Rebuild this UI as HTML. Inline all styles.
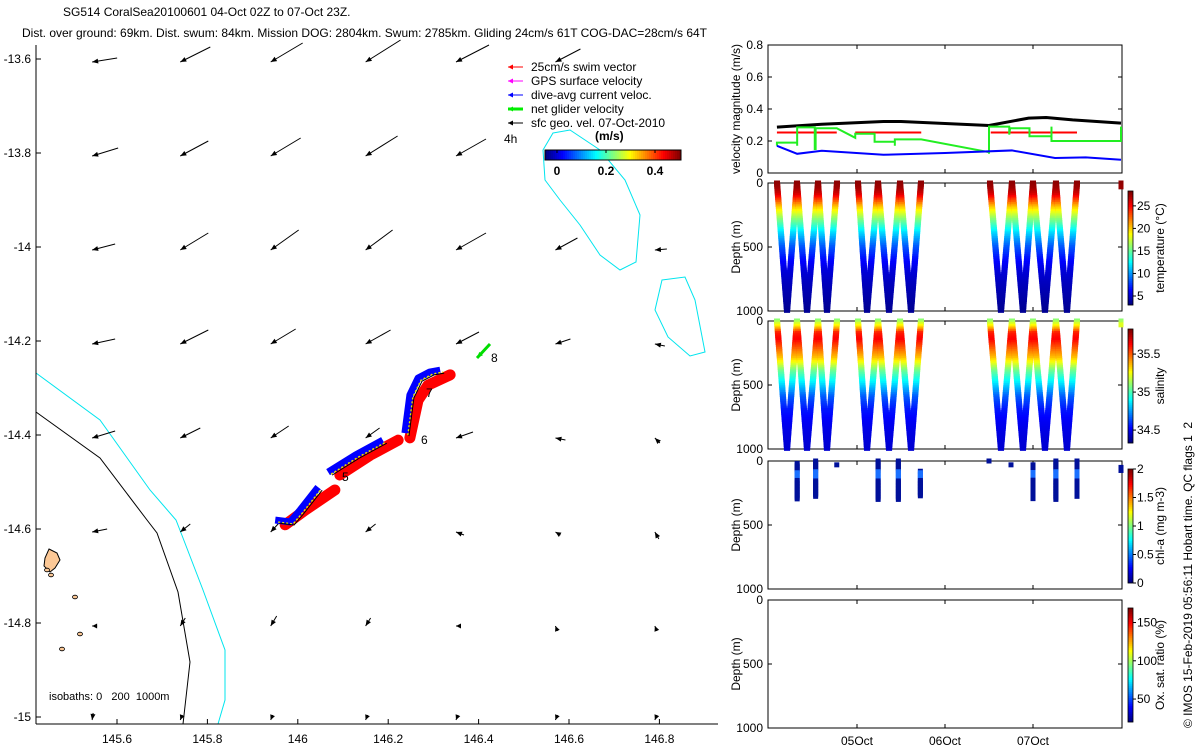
<!DOCTYPE html>
<html><head><meta charset="utf-8">
<style>
html,body{margin:0;padding:0;background:#fff;}
svg{display:block;font-family:"Liberation Sans",sans-serif;}
</style></head>
<body>
<svg id="s" width="1200" height="750" xmlns="http://www.w3.org/2000/svg">
<text x="63" y="16" font-size="12">SG514 CoralSea20100601 04-Oct 02Z to 07-Oct 23Z.</text>
<text x="22" y="37" font-size="12">Dist. over ground: 69km. Dist. swum: 84km. Mission DOG: 2804km. Swum: 2785km. Gliding 24cm/s 61T COG-DAC=28cm/s 64T</text>
</svg>
<script>
// ---------- data ----------
const latTicks=[-13.6,-13.8,-14,-14.2,-14.4,-14.6,-14.8,-15];
const lonTicks=[145.6,145.8,146,146.2,146.4,146.6,146.8];
const gridLons=[145.545,145.74,145.94,146.15,146.35,146.57,146.79];
const gridLats=[-13.6,-13.8,-14.0,-14.2,-14.4,-14.6,-14.8,-15.0];
const geoU=[[25,30,32,35,33,25,0],[26,28,30,32,30,0,0],[23,28,28,27,30,22,12],[23,28,25,25,23,15,10],[23,20,18,14,17,10,5],[15,10,12,10,8,5,4],[5,5,6,5,5,2,2],[1,2,2,2,2,2,2]];
const geoV=[[4,15,19,22,17,13,0],[8,15,18,20,17,0,0],[6,17,20,20,17,12,1],[5,14,15,14,12,5,-2],[7,10,12,10,6,-2,-5],[3,8,13,8,-3,-3,-7],[0,8,10,8,0,-5,-5],[7,5,5,5,5,5,5]];
const blueLon=[[145.950,145.983,146.005,146.045],[146.067,146.127,146.188],[146.237,146.248,146.266,146.292,146.315]];
const blueLat=[[-14.581,-14.585,-14.560,-14.511],[-14.479,-14.443,-14.411],[-14.396,-14.315,-14.279,-14.266,-14.262]];
const redLon=[[145.972,146.016,146.082],[146.093,146.160,146.222],[146.248,146.266,146.288,146.337]];
const redLat=[[-14.591,-14.560,-14.517],[-14.485,-14.443,-14.411],[-14.406,-14.326,-14.294,-14.272]];
const blackT=[0.09,0.6,1.3,1.5,2.5,2.95,3.15,3.45,4.0];
const blackV=[0.287,0.305,0.322,0.322,0.297,0.343,0.347,0.332,0.312];
const blueT=[0.09,0.32,0.6,1.3,2.0,2.76,3.25,3.6,4.0];
const blueV=[0.17,0.12,0.139,0.114,0.125,0.141,0.094,0.098,0.083];
const redStart=[0.09,0.98,2.52];
const redEnd=[0.77,1.73,3.5];
const redVal=[0.253,0.253,0.253];
const greenT=[0.09,0.09,0.32,0.32,0.32,0.52,0.52,0.53,0.53,0.77,0.98,0.98,1.2,1.2,1.43,1.43,1.43,1.73,2.5,2.5,2.5,2.73,2.73,2.74,2.96,2.96,3.21,3.21,3.21,4.0,4.0];
const greenV=[0.17,0.19,0.19,0.17,0.285,0.285,0.15,0.15,0.28,0.28,0.22,0.245,0.245,0.195,0.195,0.17,0.21,0.21,0.13,0.12,0.29,0.29,0.24,0.28,0.28,0.23,0.23,0.29,0.2,0.2,0.29];
const diveStart=[0.091,0.318,0.557,1.011,1.239,1.489,2.511,2.761,3.0,3.261];
const diveBottom=[0.205,0.432,0.659,1.114,1.364,1.614,2.636,2.886,3.136,3.386];
const diveEnd=[0.318,0.557,0.773,1.239,1.489,1.727,2.761,3.0,3.261,3.5];
const depthLevels=[0,50,100,150,200,300,400,500,600,700,800,900,1000];
const tempProfile=[28,27.5,26,23,20,15.5,11.5,8.5,6.5,5.2,4.5,4,3.5];
const salProfile=[35.1,35.3,35.6,35.65,35.55,35.35,35.05,34.85,34.65,34.55,34.5,34.47,34.45];
const chlT=[0.32,0.53,0.77,1.24,1.47,1.72,2.5,2.75,3.0,3.26,3.5,4.0];
const chlTop=[20,0,30,0,0,80,0,30,30,0,0,50];
const chlBot=[300,280,30,300,300,280,0,30,300,300,280,80];
const dateTicks=[1,2,3];
const dateLabels=["05Oct","06Oct","07Oct"];

// ---------- helpers ----------
const svg=document.getElementById('s');
const NS='http://www.w3.org/2000/svg';
function mk(tag,attrs,parent){const e=document.createElementNS(NS,tag);for(const k in attrs)e.setAttribute(k,attrs[k]);(parent||svg).appendChild(e);return e;}
function jet(t){t=Math.max(0,Math.min(1,t));const r=Math.max(0,Math.min(1,1.5-Math.abs(4*t-3))),g=Math.max(0,Math.min(1,1.5-Math.abs(4*t-2))),b=Math.max(0,Math.min(1,1.5-Math.abs(4*t-1)));return `rgb(${Math.round(r*255)},${Math.round(g*255)},${Math.round(b*255)})`;}
function interp(xs,ys,x){for(let i=0;i<xs.length-1;i++){if(x<=xs[i+1]){const f=(x-xs[i])/(xs[i+1]-xs[i]);return ys[i]+f*(ys[i+1]-ys[i]);}}return ys[ys.length-1];}

// ---------- map ----------
const mx=lon=>117+(lon-145.6)*452;
const my=lat=>59-(lat+13.6)*470;
const map=mk('g',{});


const iso1=mk('polyline',{points:"36,412 100,458 147,520 157,533 178,592 190,662 183,724",fill:"none",stroke:"#000","stroke-width":1},map);

const iso2=mk('polyline',{points:"36,373 100,420 150,490 176,520 183,538 203,590 225,650 225,700 218,724",fill:"none",stroke:"#00e5ee","stroke-width":1},map);

const iso3=mk('polygon',{points:"553,133 570,130 600,150 625,180 640,215 636,262 620,270 600,255 580,225 560,200 545,180 543,150",fill:"none",stroke:"#00e5ee","stroke-width":1},map);

const iso4=mk('polygon',{points:"662,280 685,277 695,300 705,352 690,356 668,337 655,310",fill:"none",stroke:"#00e5ee","stroke-width":1},map);

const isl=mk('polygon',{points:"49,549 57,553 60,560 55,568 50,572 44,566 45,558",fill:"#fcc896",stroke:"#000","stroke-width":1},map);

[[47,570],[51,575],[75,597],[80,634],[62,649]].forEach(p=>{const c=mk('ellipse',{cx:p[0],cy:p[1],rx:2.5,ry:1.8,fill:"#fcc896",stroke:"#000","stroke-width":0.8},map);});
function arrow(x0,y0,dx,dy,color,w,name){
  const g=mk('g',{},map);
  
  
  const L=Math.hypot(dx,dy);
  mk('line',{x1:x0+dx,y1:y0+dy,x2:x0,y2:y0,stroke:color,"stroke-width":w},g);
  if(L>0.5){const ux=-dx/L,uy=-dy/L,h=Math.min(6,L*0.6+2);
    const bx=x0-ux*h,by=y0-uy*h;
    mk('polygon',{points:`${x0},${y0} ${bx-uy*2.5},${by+ux*2.5} ${bx+uy*2.5},${by-ux*2.5}`,fill:color},g);}
  else mk('circle',{cx:x0,cy:y0,r:1.8,fill:color},g);
}
gridLats.forEach((la,r)=>gridLons.forEach((lo,c)=>{
  if(geoU[r][c]===0&&geoV[r][c]===0)return;
  arrow(mx(lo),my(la)+3,geoU[r][c],-geoV[r][c],"#000",1,'geo-velocity-arrow');
}));
redLon.forEach((seg,i)=>{
  const p=mk('polyline',{points:seg.map((lo,j)=>mx(lo)+','+my(redLat[i][j])).join(' '),fill:"none",stroke:"#ff0000","stroke-width":11,"stroke-linejoin":"round","stroke-linecap":"round"},map);
  
});
blueLon.forEach((seg,i)=>{
  const pts=seg.map((lo,j)=>mx(lo)+','+my(blueLat[i][j])).join(' ');
  const p=mk('polyline',{points:pts,fill:"none",stroke:"#0000ff","stroke-width":7,"stroke-linejoin":"round"},map);
  
  const q=mk('polyline',{points:pts,fill:"none",stroke:"#e6e600","stroke-width":1.5,"stroke-dasharray":"2 2","transform":"translate(3,2)"},map);
  
  const k=mk('polyline',{points:pts,fill:"none",stroke:"#000","stroke-width":1,"transform":"translate(4,3)"},map);
  
});
arrow(477,358,13,-14,"#00dd00",3,'net-glider-velocity-arrow');
[["6",421,444],["7",426,397],["8",491,362],["5",342,481]].forEach(t=>{const e=mk('text',{x:t[1],y:t[2],"font-size":12},map);e.textContent=t[0];});
const ax=mk('g',{},map);
mk('line',{x1:36,y1:45,x2:36,y2:724,stroke:"#000"},ax);
mk('line',{x1:36,y1:724,x2:718,y2:724,stroke:"#000"},ax);
latTicks.forEach(v=>{const y=my(v);mk('line',{x1:36,y1:y,x2:41,y2:y,stroke:"#000"},ax);const t=mk('text',{x:31,y:y+4,"font-size":12,"text-anchor":"end"},ax);t.textContent=v;});
lonTicks.forEach(v=>{const x=mx(v);mk('line',{x1:x,y1:724,x2:x,y2:719,stroke:"#000"},ax);const t=mk('text',{x:x,y:743,"font-size":12,"text-anchor":"middle"},ax);t.textContent=v;});
const isoT=mk('text',{x:49,y:700,"font-size":11,style:"white-space:pre"},map);isoT.textContent="isobaths: 0   200  1000m";
const leg=mk('g',{},map);
[["#ff0000","25cm/s swim vector",1],["#ff00ff","GPS surface velocity",1],["#0000ff","dive-avg current veloc.",1],["#00ee00","net glider velocity",3],["#000","sfc geo. vel. 07-Oct-2010",1]].forEach((e,i)=>{
  const y=67+i*14;
  const g=mk('g',{},leg);
  mk('line',{x1:508,y1:y,x2:523,y2:y,stroke:e[0],"stroke-width":e[2]},g);
  mk('polygon',{points:`508,${y} 513,${y-2.5} 513,${y+2.5}`,fill:e[0]},g);
  const t=mk('text',{x:531,y:y+4,"font-size":12},g);t.textContent=e[1];
});
const t4=mk('text',{x:504,y:143,"font-size":12},leg);t4.textContent="4h";
const tu=mk('text',{x:595,y:140,"font-size":12,"font-weight":"bold"},leg);tu.textContent="(m/s)";
for(let i=0;i<68;i++)mk('rect',{x:545+i*2,y:150,width:2.2,height:10,fill:jet(i/67)},leg);
mk('rect',{x:545,y:150,width:136,height:10,fill:"none",stroke:"#000"},leg);
[[0,557],[0.2,606],[0.4,655]].forEach(v=>{mk('line',{x1:v[1],y1:150,x2:v[1],y2:153,stroke:"#000"},leg);const t=mk('text',{x:v[1],y:175,"font-size":12,"font-weight":"bold","text-anchor":"middle"},leg);t.textContent=v[0];});

// ---------- right panels ----------
const X0=768,X1=1122;
const tx=d=>769+d*88;
function panel(top,bot,name,ylabel,ticks,yfun){
  const g=mk('g',{});
  mk('rect',{x:X0,y:top,width:X1-X0,height:bot-top,fill:"none",stroke:"#000"},g);
  ticks.forEach(v=>{const y=yfun(v);mk('line',{x1:X0,y1:y,x2:X0+4,y2:y,stroke:"#000"},g);mk('line',{x1:X1,y1:y,x2:X1-4,y2:y,stroke:"#000"},g);
    const t=mk('text',{x:X0-5,y:y+4,"font-size":12,"text-anchor":"end"},g);t.textContent=v;});
  dateTicks.forEach(d=>{mk('line',{x1:tx(d),y1:bot,x2:tx(d),y2:bot-4,stroke:"#000"},g);mk('line',{x1:tx(d),y1:top,x2:tx(d),y2:top+4,stroke:"#000"},g);});
  const yl=mk('text',{x:0,y:0,"font-size":12,"text-anchor":"middle",transform:`translate(740,${(top+bot)/2}) rotate(-90)`},g);yl.textContent=ylabel;
  return g;
}
const vy=v=>173-v*160;
const vp=panel(45,173,'velocity-panel','velocity magnitude (m/s)',[0,0.2,0.4,0.6,0.8],vy);
function line(ts,vs,color,w,name){const p=mk('polyline',{points:ts.map((t,i)=>tx(t)+','+vy(vs[i])).join(' '),fill:"none",stroke:color,"stroke-width":w},vp);}
line(blackT,blackV,"#000",3,'sfc-geo-velocity-line');
redStart.forEach((s,i)=>line([s,redEnd[i]],[redVal[i],redVal[i]],"#ff0000",2,'swim-speed-line'));
line(greenT,greenV,"#22ee22",2,'net-glider-velocity-line');
line(blueT,blueV,"#0000ff",2,'dive-avg-current-line');

function depthPanel(top,name,label,cbMin,cbMax,cbTicks,valueAt,mode){
  const bot=top+128;
  const dy=d=>top+d*0.128;
  const g=panel(top,bot,name,'Depth (m)',[0,500,1000],dy);
  const dots=mk('g',{},g);
  if(mode==='profile'){
    diveStart.forEach((s,i)=>{
      for(let d=0;d<=1000;d+=14){
        const v=valueAt(d),c=jet((v-cbMin)/(cbMax-cbMin));
        [s+(diveBottom[i]-s)*d/1000, diveEnd[i]-(diveEnd[i]-diveBottom[i])*d/1000].forEach(t=>{
          mk('rect',{x:tx(t)-3,y:dy(d)-2.5,width:6,height:5,fill:c},dots);});
      }
    });
    [0,10,30].forEach(d=>mk('rect',{x:tx(4.0)-2.5,y:dy(d)-2.5,width:5,height:5,fill:jet((valueAt(d)-cbMin)/(cbMax-cbMin))},dots));
  } else if(mode==='chl'){
    chlT.forEach((t,i)=>{for(let d=chlTop[i];d<=chlBot[i];d+=12){const c=(d>80&&d<150)?"#1a70ff":"#00109a";mk('rect',{x:tx(t)-2.5,y:dy(d)-2.5,width:5,height:5,fill:c},dots);}});
  }
  const cb=mk('g',{},g);
  const ct=top+8,cbH=114;
  for(let i=0;i<57;i++)mk('rect',{x:1128,y:ct+cbH-(i+1)*2,width:5,height:2.2,fill:jet(i/56)},cb);
  mk('rect',{x:1128,y:ct,width:5,height:cbH,fill:"none",stroke:"#000","stroke-width":0.8},cb);
  cbTicks.forEach(v=>{const y=ct+cbH-(v-cbMin)/(cbMax-cbMin)*cbH;mk('line',{x1:1133,y1:y,x2:1136,y2:y,stroke:"#000"},cb);const t=mk('text',{x:1137,y:y+4,"font-size":12},cb);t.textContent=v;});
  const l=mk('text',{x:0,y:0,"font-size":12,"text-anchor":"middle",transform:`translate(1164,${ct+cbH/2}) rotate(-90)`},cb);l.textContent=label;
  return g;
}
depthPanel(183,'temperature-panel','temperature (°C)',3,28.3,[5,10,15,20,25],d=>interp(depthLevels,tempProfile,d),'profile');
depthPanel(321,'salinity-panel','salinity',34.33,35.83,[34.5,35,35.5],d=>interp(depthLevels,salProfile,d),'profile');
depthPanel(461,'chlorophyll-panel','chl-a (mg m-3)',0,2,[0,0.5,1,1.5,2],null,'chl');
depthPanel(600,'oxygen-panel','Ox. sat. ratio (%)',20,169,[50,100,150],null,'none');
dateTicks.forEach((d,i)=>{const t=mk('text',{x:tx(d),y:745,"font-size":12,"text-anchor":"middle"});t.textContent=dateLabels[i];});
const cr=mk('text',{x:0,y:0,"font-size":12,transform:"translate(1192,728) rotate(-90)",style:"white-space:pre"});cr.textContent="© IMOS 15-Feb-2019 05:56:11 Hobart time. QC flags 1  2";
</script>
</body></html>
